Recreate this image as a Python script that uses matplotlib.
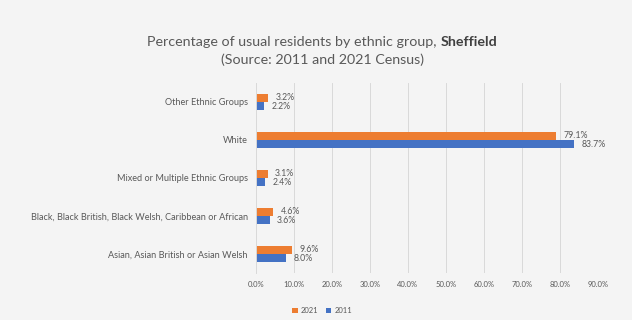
import matplotlib
matplotlib.use("Agg")
import matplotlib.pyplot as plt
import numpy as np

# Census shares by ethnic group (bottom to top on the chart)
groups = ["Asian, Asian British or Asian Welsh",
          "Black, Black British, Black Welsh, Caribbean or African",
          "Mixed or Multiple Ethnic Groups",
          "White",
          "Other Ethnic Groups"]
pct_2021 = [9.6, 4.6, 3.1, 79.1, 3.2]
pct_2011 = [8.0, 3.6, 2.4, 83.7, 2.2]
xticks = list(range(0, 100, 10))

plt.rcParams["font.family"] = ["Lato", "DejaVu Sans"]
bg = "#f4f4f4"
txt = "#595959"

fig = plt.figure(figsize=(6.32, 3.2), dpi=100, facecolor=bg)
ax = fig.add_axes([0.405, 0.147, 0.541, 0.594], facecolor=bg)

y = np.arange(len(groups))
h = 0.22
b1 = ax.barh(y + h / 2, pct_2021, height=h, color="#ed7d31", label="2021")
b2 = ax.barh(y - h / 2, pct_2011, height=h, color="#4472c4", label="2011")

for bars, vals in ((b1, pct_2021), (b2, pct_2011)):
	for bar, v in zip(bars, vals):
		ax.text(v + 1.9, bar.get_y() + bar.get_height() / 2, "%.1f%%" % v,
				va="center", ha="left", fontsize=6.3, color=txt)

ax.set_xlim(0, 90)
ax.set_ylim(-0.5, len(groups) - 0.5)
ax.set_xticks(xticks)
ax.set_xticklabels(["%.1f%%" % t for t in xticks], fontsize=5.5, color=txt)
ax.set_yticks(y)
ax.set_yticklabels(groups, fontsize=6.6, color=txt)
ax.tick_params(length=0, pad=6)
ax.grid(axis="x", color="#d9d9d9", linewidth=0.7)
ax.set_axisbelow(True)
for s in ("top", "right", "bottom"):
	ax.spines[s].set_visible(False)
ax.spines["left"].set_color("#d9d9d9")
ax.spines["left"].set_linewidth(0.7)

# Title: regular text followed by the bold place name, centred as one line
t1 = fig.text(0, 0.855, "Percentage of usual residents by ethnic group, ",
			  fontsize=10.3, color=txt)
t2 = fig.text(0, 0.855, "Sheffield", fontsize=10.3, color="#404040", fontweight="bold")
fig.canvas.draw()
r = fig.canvas.get_renderer()
w1 = t1.get_window_extent(r).width / fig.bbox.width
w2 = t2.get_window_extent(r).width / fig.bbox.width
x0 = 0.51 - (w1 + w2) / 2
t1.set_x(x0)
t2.set_x(x0 + w1)
fig.text(0.51, 0.8, "(Source: 2011 and 2021 Census)", ha="center", fontsize=10.3, color=txt)

fig.legend(handles=[b1, b2], loc="center", bbox_to_anchor=(0.51, 0.03), ncol=2,
		   frameon=False, fontsize=5.5, labelcolor=txt, handlelength=0.7,
		   handleheight=0.7, columnspacing=1.0, handletextpad=0.4)

fig.savefig("out.png", dpi=100, facecolor=bg)
